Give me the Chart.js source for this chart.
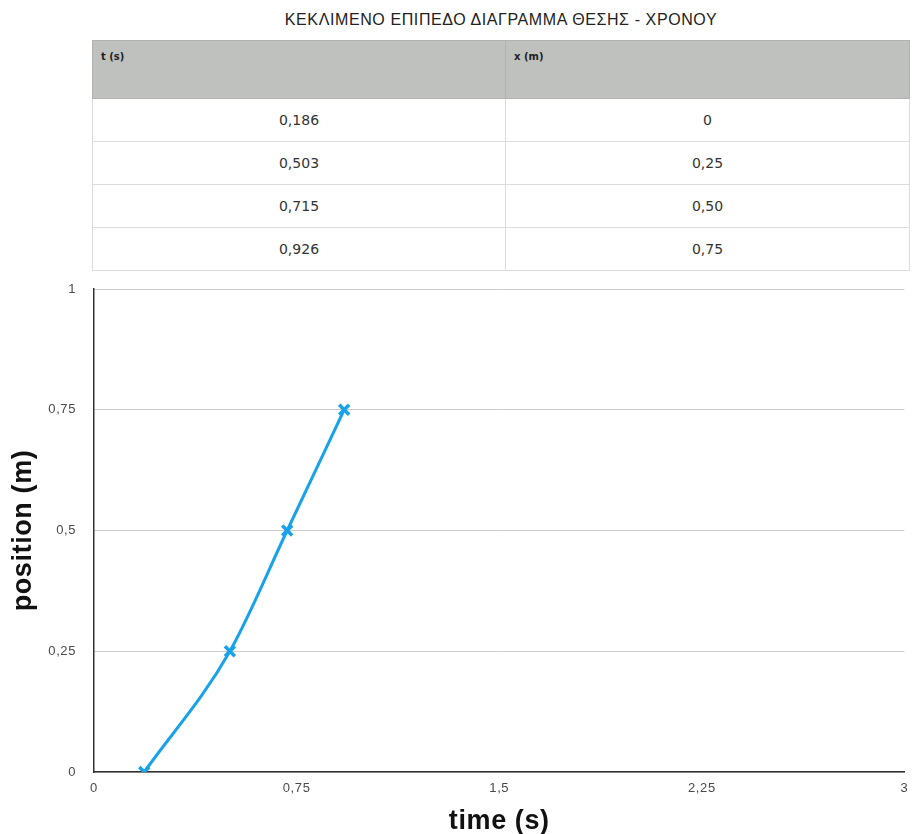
<!DOCTYPE html>
<html>
<head>
<meta charset="utf-8">
<script src="https://cdn.jsdelivr.net/npm/chart.js@4/dist/chart.umd.min.js"></script>
<style>
  html, body { margin: 0; padding: 0; background: #fff; }
  body { width: 915px; height: 834px; position: relative; overflow: hidden; }
  #titulo {
    position: absolute; left: 0; top: 11px; width: 1002px; text-align: center;
    font: 16px "Liberation Sans", Arial, sans-serif; letter-spacing: 0.6px; color: #222;
  }
  #tabla {
    position: absolute; left: 92px; top: 40px; width: 818px;
    border-collapse: collapse; font-family: "DejaVu Sans", Verdana, sans-serif;
  }
  #tabla th {
    background: #bfc1bf; color: #222; font-size: 10px; font-weight: bold;
    text-align: left; vertical-align: top; height: 58px; box-sizing: border-box;
    padding: 10px 8px; border: 1px solid #b0b2b0;
  }
  #tabla td {
    height: 43px; box-sizing: border-box; text-align: center; font-size: 14px;
    color: #333; border: 1px solid #dcdcdc;
  }
  #grafico { position: absolute; left: 0; top: 270px; width: 915px; height: 564px; }
</style>
</head>
<body>
<div id="titulo">ΚΕΚΛΙΜΕΝΟ ΕΠΙΠΕΔΟ ΔΙΑΓΡΑΜΜΑ ΘΕΣΗΣ - ΧΡΟΝΟΥ</div>
<table id="tabla">
  <thead><tr><th style="width:413px">t (s)</th><th>x (m)</th></tr></thead>
  <tbody></tbody>
</table>
<div id="grafico"><canvas id="chartPosicion"></canvas></div>
<script>
// Datos de la tabla y del gráfico
const tiempos = [0.186, 0.503, 0.715, 0.926];
const posiciones = [0, 0.25, 0.5, 0.75];
const etiquetasTiempo = ["0,186", "0,503", "0,715", "0,926"];
const etiquetasPosicion = ["0", "0,25", "0,50", "0,75"];

// Llenar la tabla
const cuerpo = document.querySelector("#tabla tbody");
tiempos.forEach((_, i) => {
  const fila = document.createElement("tr");
  fila.innerHTML = `<td>${etiquetasTiempo[i]}</td><td>${etiquetasPosicion[i]}</td>`;
  cuerpo.appendChild(fila);
});

const coma = (v) => String(v).replace(".", ",");
const fuenteTicks = { family: "'Liberation Sans', Arial, sans-serif", size: 13 };
const fuenteTitulo = { family: "'Liberation Sans', Arial, sans-serif", size: 27, weight: "bold", lineHeight: 0.95 };

// Un poco de espacio entre letras en el canvas
const espaciado = {
  id: "espaciado",
  beforeDraw(chart) { chart.ctx.letterSpacing = "0.6px"; },
};

const ctx = document.getElementById("chartPosicion").getContext("2d");
new Chart(ctx, {
  type: "line",
  data: {
    datasets: [
      {
        label: "x (m)",
        data: tiempos.map((t, i) => ({ x: t, y: posiciones[i] })),
        borderColor: "#18a2ea",
        backgroundColor: "#18a2ea",
        borderWidth: 3,
        cubicInterpolationMode: "monotone",
        pointStyle: "crossRot",
        pointRadius: 7,
        pointBorderWidth: 3.5,
        pointHoverRadius: 7,
      },
    ],
  },
  plugins: [espaciado],
  options: {
    responsive: true,
    maintainAspectRatio: false,
    animation: false,
    layout: { padding: { top: 19, right: 4, left: 0, bottom: 0 } },
    plugins: { legend: { display: false }, tooltip: { enabled: false } },
    scales: {
      x: {
        type: "linear",
        min: 0,
        max: 3,
        afterFit: (s) => { s.height = 62; s.paddingLeft = 0; s.paddingRight = 0; },
        grid: { display: false, drawTicks: false },
        border: { color: "#333", width: 1.5 },
        ticks: { stepSize: 0.75, padding: 9, color: "#4a4a4a", font: fuenteTicks, callback: coma, maxRotation: 0 },
        title: { display: true, text: "time (s)", color: "#111", font: fuenteTitulo, padding: { bottom: 0 } },
      },
      y: {
        type: "linear",
        min: 0,
        max: 1,
        afterFit: (s) => { s.width = 94; s.paddingTop = 0; s.paddingBottom = 0; },
        grid: { color: "#cccccc", lineWidth: 1, drawTicks: false },
        border: { color: "#333", width: 1.5 },
        ticks: { stepSize: 0.25, padding: 18, color: "#4a4a4a", font: fuenteTicks, callback: coma },
        title: { display: true, text: "position (m)", color: "#111", font: fuenteTitulo, padding: { top: 11 } },
      },
    },
  },
});
</script>
</body>
</html>
